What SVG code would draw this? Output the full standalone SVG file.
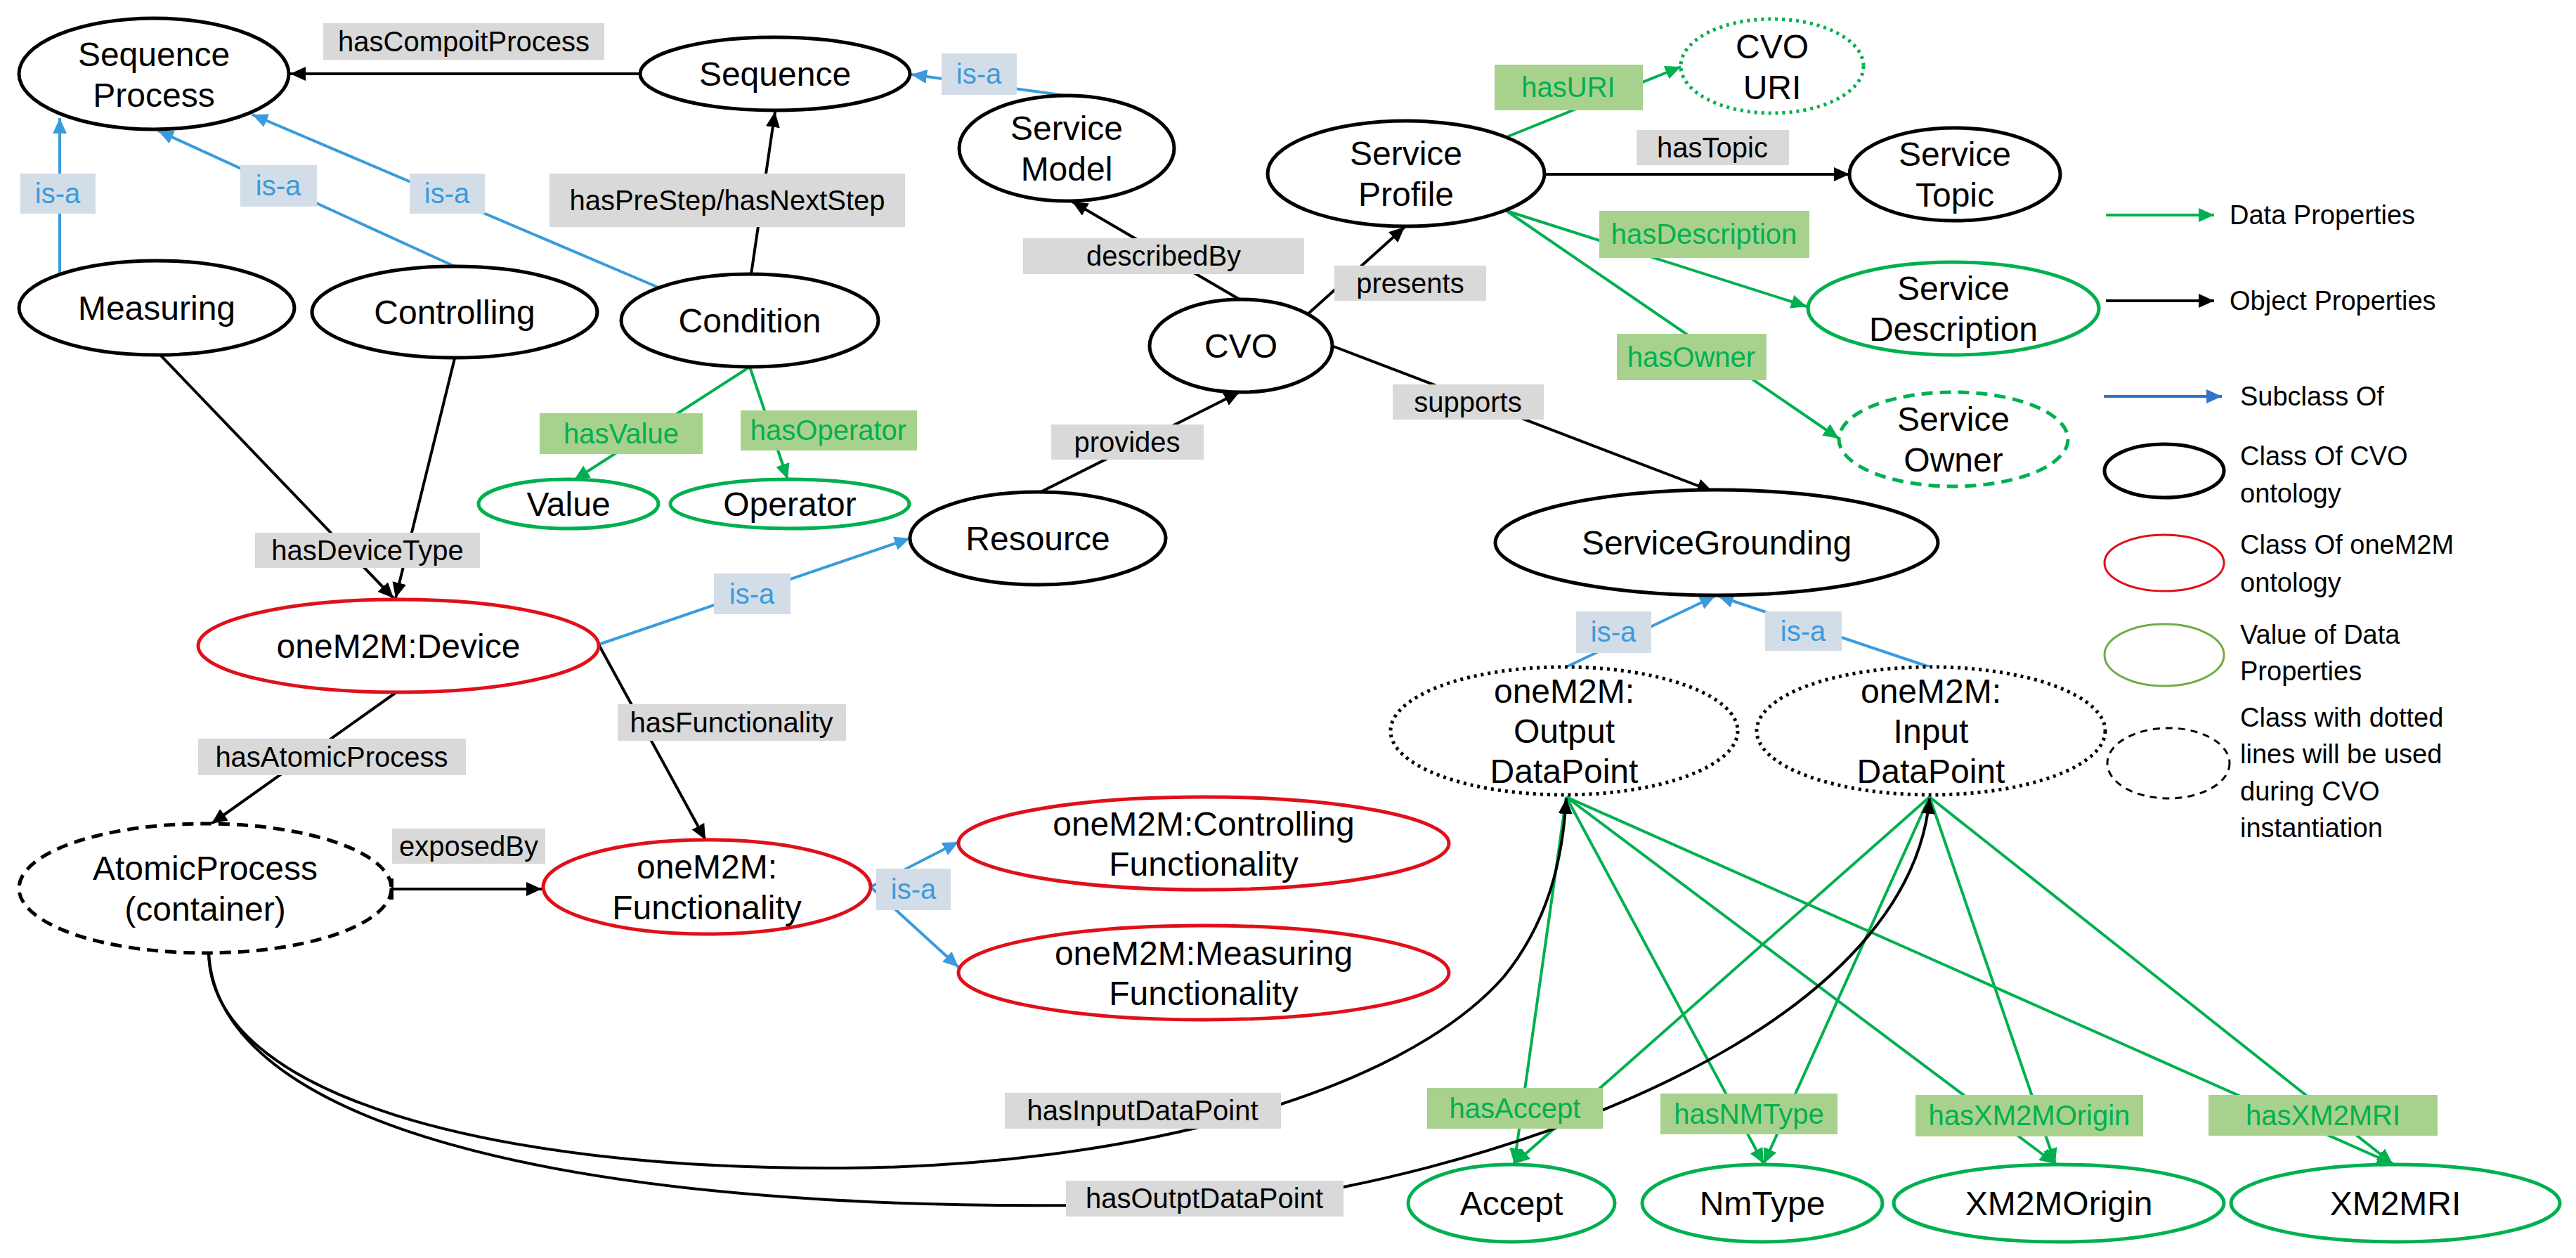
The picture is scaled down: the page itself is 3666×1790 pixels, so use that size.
<svg xmlns="http://www.w3.org/2000/svg" width="3666" height="1790" viewBox="0 0 3666 1790">
<style>
text{font-family:"Liberation Sans",Arial,sans-serif;text-anchor:middle;dominant-baseline:central}
.n{font-size:48px;fill:#000}
.l{font-size:40px}
.lg{font-size:38px;text-anchor:start;fill:#000}
.cvo{fill:#fff;stroke:#000;stroke-width:5}
.m2m{fill:#fff;stroke:#e0101a;stroke-width:5}
.val{fill:#fff;stroke:#00b050;stroke-width:5}
.dash{fill:#fff;stroke:#000;stroke-width:5;stroke-dasharray:16 10}
.dot{fill:#fff;stroke:#000;stroke-width:5;stroke-dasharray:4 6}
.k{fill:none;stroke:#000;stroke-width:4;marker-end:url(#ak)}
.g{fill:none;stroke:#00b050;stroke-width:4;marker-end:url(#ag)}
.b{fill:none;stroke:#3a9bdc;stroke-width:4;marker-end:url(#ab)}
.gr{fill:#d9d9d9}.bl{fill:#d3dde8}.gn{fill:#a9d18e}
.tg{fill:#000}.tb{fill:#3a9bdc}.tn{fill:#00b050}
</style>
<defs>
<marker id="ak" markerUnits="userSpaceOnUse" markerWidth="24" markerHeight="20" refX="22" refY="10" orient="auto"><path d="M0,0 L22,10 L0,20 z" fill="#000"/></marker>
<marker id="ag" markerUnits="userSpaceOnUse" markerWidth="24" markerHeight="20" refX="22" refY="10" orient="auto"><path d="M0,0 L22,10 L0,20 z" fill="#00b050"/></marker>
<marker id="ab" markerUnits="userSpaceOnUse" markerWidth="24" markerHeight="20" refX="22" refY="10" orient="auto"><path d="M0,0 L22,10 L0,20 z" fill="#3a9bdc"/></marker>
<marker id="ab2" markerUnits="userSpaceOnUse" markerWidth="24" markerHeight="20" refX="22" refY="10" orient="auto"><path d="M0,0 L22,10 L0,20 z" fill="#2f75c8"/></marker>
<marker id="bar" markerUnits="userSpaceOnUse" markerWidth="6" markerHeight="30" refX="3" refY="15" orient="auto"><rect x="0" y="0" width="5" height="30" fill="#000"/></marker>
</defs>
<g id="connectors">
<line class="k" x1="911" y1="105" x2="413" y2="105"/>
<line class="b" x1="85" y1="390" x2="85" y2="168"/>
<line class="b" x1="647" y1="379" x2="225" y2="186"/>
<line class="b" x1="937" y1="409" x2="359" y2="163"/>
<line class="k" x1="1069" y1="390" x2="1103" y2="159"/>
<line class="b" x1="1517" y1="136" x2="1297" y2="106"/>
<line class="g" x1="1067" y1="522" x2="817" y2="683"/>
<line class="g" x1="1067" y1="522" x2="1121" y2="682"/>
<line class="k" x1="228" y1="505" x2="560" y2="851"/>
<line class="k" x1="647" y1="510" x2="563" y2="851"/>
<line class="b" x1="852" y1="917" x2="1295" y2="766"/>
<line class="k" x1="852" y1="917" x2="1004" y2="1195"/>
<line class="k" x1="564" y1="985" x2="301" y2="1172"/>
<line class="k" x1="558" y1="1265" x2="771" y2="1265" style="marker-start:url(#bar)"/>
<line class="b" x1="1239" y1="1262" x2="1364" y2="1198"/>
<line class="b" x1="1239" y1="1262" x2="1364" y2="1376"/>
<line class="k" x1="1764" y1="426" x2="1526" y2="287"/>
<line class="k" x1="1861" y1="447" x2="1999" y2="323"/>
<line class="k" x1="1898" y1="493" x2="2437" y2="699"/>
<line class="k" x1="1481" y1="700" x2="1764" y2="558"/>
<line class="g" x1="2144" y1="195" x2="2392" y2="95"/>
<line class="k" x1="2198" y1="248" x2="2632" y2="248"/>
<line class="g" x1="2144" y1="300" x2="2571" y2="436"/>
<line class="g" x1="2144" y1="300" x2="2617" y2="624"/>
<line class="b" x1="2229" y1="949" x2="2441" y2="848"/>
<line class="b" x1="2746" y1="949" x2="2445" y2="848"/>
<line class="g" x1="2229" y1="1134" x2="2155" y2="1656"/>
<line class="g" x1="2229" y1="1134" x2="2510" y2="1656"/>
<line class="g" x1="2229" y1="1134" x2="2925" y2="1656"/>
<line class="g" x1="2229" y1="1134" x2="3405" y2="1656"/>
<line class="g" x1="2746" y1="1134" x2="2155" y2="1656"/>
<line class="g" x1="2746" y1="1134" x2="2510" y2="1656"/>
<line class="g" x1="2746" y1="1134" x2="2925" y2="1656"/>
<line class="g" x1="2746" y1="1134" x2="3405" y2="1656"/>
<path class="k" d="M297,1356 C300,1560 700,1665 1200,1662 C1600,1660 1990,1560 2140,1390 C2205,1310 2224,1220 2229,1136"/>
<path class="k" d="M297,1356 C310,1600 800,1720 1517,1715 L1912,1689 C2300,1610 2720,1420 2746,1136"/>
</g>
<g id="labels">
<rect class="gr" x="460" y="33" width="400" height="52"/><text class="l tg" x="660" y="59">hasCompoitProcess</text>
<rect class="gr" x="782" y="247" width="506" height="76"/><text class="l tg" x="1035" y="285">hasPreStep/hasNextStep</text>
<rect class="gr" x="363" y="758" width="320" height="50"/><text class="l tg" x="523" y="783">hasDeviceType</text>
<rect class="gr" x="282" y="1051" width="381" height="52"/><text class="l tg" x="472" y="1077">hasAtomicProcess</text>
<rect class="gr" x="879" y="1002" width="325" height="52"/><text class="l tg" x="1041" y="1028">hasFunctionality</text>
<rect class="gr" x="558" y="1179" width="218" height="50"/><text class="l tg" x="667" y="1204">exposedBy</text>
<rect class="gr" x="1430" y="1555" width="393" height="51"/><text class="l tg" x="1626" y="1580">hasInputDataPoint</text>
<rect class="gr" x="1517" y="1680" width="395" height="51"/><text class="l tg" x="1714" y="1705">hasOutptDataPoint</text>
<rect class="gr" x="1456" y="339" width="400" height="51"/><text class="l tg" x="1656" y="364">describedBy</text>
<rect class="gr" x="1899" y="378" width="216" height="50"/><text class="l tg" x="2007" y="403">presents</text>
<rect class="gr" x="1982" y="547" width="215" height="50"/><text class="l tg" x="2089" y="572">supports</text>
<rect class="gr" x="1496" y="604" width="217" height="50"/><text class="l tg" x="1604" y="629">provides</text>
<rect class="gr" x="2329" y="185" width="217" height="50"/><text class="l tg" x="2437" y="210">hasTopic</text>
<rect class="bl" x="29" y="247" width="107" height="57"/><text class="l tb" x="82" y="275">is-a</text>
<rect class="bl" x="342" y="235" width="109" height="59"/><text class="l tb" x="396" y="264">is-a</text>
<rect class="bl" x="583" y="247" width="107" height="57"/><text class="l tb" x="636" y="275">is-a</text>
<rect class="bl" x="1340" y="76" width="107" height="59"/><text class="l tb" x="1393" y="105">is-a</text>
<rect class="bl" x="1016" y="816" width="109" height="58"/><text class="l tb" x="1070" y="845">is-a</text>
<rect class="bl" x="1247" y="1236" width="106" height="59"/><text class="l tb" x="1300" y="1265">is-a</text>
<rect class="bl" x="2243" y="870" width="107" height="59"/><text class="l tb" x="2296" y="899">is-a</text>
<rect class="bl" x="2512" y="870" width="109" height="56"/><text class="l tb" x="2566" y="898">is-a</text>
<rect class="gn" x="768" y="588" width="232" height="58"/><text class="l tn" x="884" y="617">hasValue</text>
<rect class="gn" x="1054" y="584" width="251" height="57"/><text class="l tn" x="1179" y="612">hasOperator</text>
<rect class="gn" x="2127" y="92" width="211" height="65"/><text class="l tn" x="2232" y="124">hasURI</text>
<rect class="gn" x="2276" y="300" width="299" height="67"/><text class="l tn" x="2425" y="333">hasDescription</text>
<rect class="gn" x="2301" y="475" width="213" height="66"/><text class="l tn" x="2407" y="508">hasOwner</text>
<rect class="gn" x="2031" y="1548" width="250" height="58"/><text class="l tn" x="2156" y="1577">hasAccept</text>
<rect class="gn" x="2363" y="1556" width="252" height="58"/><text class="l tn" x="2489" y="1585">hasNMType</text>
<rect class="gn" x="2726" y="1558" width="324" height="59"/><text class="l tn" x="2888" y="1587">hasXM2MOrigin</text>
<rect class="gn" x="3143" y="1558" width="326" height="58"/><text class="l tn" x="3306" y="1587">hasXM2MRI</text>
</g>
<g id="SequenceProcess"><ellipse class="cvo" cx="219" cy="105" rx="192" ry="79"/><text class="n" x="219" y="77">Sequence</text><text class="n" x="219" y="135">Process</text></g>
<g id="Sequence"><ellipse class="cvo" cx="1103" cy="105" rx="192" ry="52"/><text class="n" x="1103" y="105">Sequence</text></g>
<g id="Measuring"><ellipse class="cvo" cx="223" cy="438" rx="196" ry="67"/><text class="n" x="223" y="438">Measuring</text></g>
<g id="Controlling"><ellipse class="cvo" cx="647" cy="444" rx="203" ry="65"/><text class="n" x="647" y="444">Controlling</text></g>
<g id="Condition"><ellipse class="cvo" cx="1067" cy="456" rx="183" ry="66"/><text class="n" x="1067" y="456">Condition</text></g>
<g id="Value"><ellipse class="val" cx="809" cy="717" rx="128" ry="35"/><text class="n" x="809" y="717">Value</text></g>
<g id="Operator"><ellipse class="val" cx="1124" cy="717" rx="170" ry="35"/><text class="n" x="1124" y="717">Operator</text></g>
<g id="ServiceModel"><ellipse class="cvo" cx="1518" cy="211" rx="153" ry="75"/><text class="n" x="1518" y="182">Service</text><text class="n" x="1518" y="240">Model</text></g>
<g id="ServiceProfile"><ellipse class="cvo" cx="2001" cy="247" rx="197" ry="75"/><text class="n" x="2001" y="218">Service</text><text class="n" x="2001" y="276">Profile</text></g>
<g id="CVOURI"><ellipse cx="2522" cy="94" rx="130" ry="67" fill="#fff" stroke="#00b050" stroke-width="5" stroke-dasharray="4 6"/><text class="n" x="2522" y="66">CVO</text><text class="n" x="2522" y="124">URI</text></g>
<g id="ServiceTopic"><ellipse class="cvo" cx="2782" cy="248" rx="150" ry="66"/><text class="n" x="2782" y="219">Service</text><text class="n" x="2782" y="277">Topic</text></g>
<g id="ServiceDescription"><ellipse class="val" cx="2780" cy="439" rx="207" ry="66"/><text class="n" x="2780" y="410">Service</text><text class="n" x="2780" y="468">Description</text></g>
<g id="ServiceOwner"><ellipse cx="2780" cy="625" rx="163" ry="67" fill="#fff" stroke="#00b050" stroke-width="5" stroke-dasharray="16 10"/><text class="n" x="2780" y="596">Service</text><text class="n" x="2780" y="654">Owner</text></g>
<g id="CVO"><ellipse class="cvo" cx="1766" cy="492" rx="130" ry="66"/><text class="n" x="1766" y="492">CVO</text></g>
<g id="Resource"><ellipse class="cvo" cx="1477" cy="766" rx="182" ry="66"/><text class="n" x="1477" y="766">Resource</text></g>
<g id="ServiceGrounding"><ellipse class="cvo" cx="2443" cy="772" rx="315" ry="75"/><text class="n" x="2443" y="772">ServiceGrounding</text></g>
<g id="Device"><ellipse class="m2m" cx="567" cy="919" rx="285" ry="66"/><text class="n" x="567" y="919">oneM2M:Device</text></g>
<g id="AtomicProcess"><ellipse class="dash" cx="292" cy="1264" rx="265" ry="92"/><text class="n" x="292" y="1235">AtomicProcess</text><text class="n" x="292" y="1293">(container)</text></g>
<g id="Functionality"><ellipse class="m2m" cx="1006" cy="1262" rx="233" ry="67"/><text class="n" x="1006" y="1233">oneM2M:</text><text class="n" x="1006" y="1291">Functionality</text></g>
<g id="ControllingFunctionality"><ellipse class="m2m" cx="1713" cy="1200" rx="349" ry="66"/><text class="n" x="1713" y="1172">oneM2M:Controlling</text><text class="n" x="1713" y="1229">Functionality</text></g>
<g id="MeasuringFunctionality"><ellipse class="m2m" cx="1713" cy="1384" rx="349" ry="67"/><text class="n" x="1713" y="1356">oneM2M:Measuring</text><text class="n" x="1713" y="1413">Functionality</text></g>
<g id="OutputDataPoint"><ellipse class="dot" cx="2226" cy="1040" rx="247" ry="91"/><text class="n" x="2226" y="983">oneM2M:</text><text class="n" x="2226" y="1040">Output</text><text class="n" x="2226" y="1097">DataPoint</text></g>
<g id="InputDataPoint"><ellipse class="dot" cx="2748" cy="1040" rx="248" ry="91"/><text class="n" x="2748" y="983">oneM2M:</text><text class="n" x="2748" y="1040">Input</text><text class="n" x="2748" y="1097">DataPoint</text></g>
<g id="Accept"><ellipse class="val" cx="2151" cy="1712" rx="147" ry="55"/><text class="n" x="2151" y="1712">Accept</text></g>
<g id="NmType"><ellipse class="val" cx="2508" cy="1712" rx="171" ry="55"/><text class="n" x="2508" y="1712">NmType</text></g>
<g id="XM2MOrigin"><ellipse class="val" cx="2930" cy="1712" rx="235" ry="55"/><text class="n" x="2930" y="1712">XM2MOrigin</text></g>
<g id="XM2MRI"><ellipse class="val" cx="3409" cy="1712" rx="234" ry="55"/><text class="n" x="3409" y="1712">XM2MRI</text></g>
<g id="legend">
<line x1="2997" y1="306" x2="3151" y2="306" stroke="#00b050" stroke-width="4" marker-end="url(#ag)"/><text class="lg" x="3173" y="306">Data Properties</text>
<line x1="2997" y1="428" x2="3151" y2="428" stroke="#000" stroke-width="4" marker-end="url(#ak)"/><text class="lg" x="3173" y="428">Object Properties</text>
<line x1="2994" y1="564" x2="3162" y2="564" stroke="#2f75c8" stroke-width="4" marker-end="url(#ab2)"/><text class="lg" x="3188" y="564">Subclass Of</text>
<ellipse cx="3080" cy="670" rx="85" ry="38" fill="none" stroke="#000" stroke-width="5"/><text class="lg" x="3188" y="649">Class Of CVO</text><text class="lg" x="3188" y="702">ontology</text>
<ellipse cx="3080" cy="801" rx="85" ry="40" fill="none" stroke="#e0101a" stroke-width="3"/><text class="lg" x="3188" y="775">Class Of oneM2M</text><text class="lg" x="3188" y="829">ontology</text>
<ellipse cx="3080" cy="932" rx="85" ry="44" fill="none" stroke="#70ad47" stroke-width="3"/><text class="lg" x="3188" y="903">Value of Data</text><text class="lg" x="3188" y="955">Properties</text>
<ellipse cx="3086" cy="1086" rx="87" ry="50" fill="none" stroke="#000" stroke-width="3" stroke-dasharray="10 8"/><text class="lg" x="3188" y="1021">Class with dotted</text><text class="lg" x="3188" y="1073">lines will be used</text><text class="lg" x="3188" y="1126">during CVO</text><text class="lg" x="3188" y="1178">instantiation</text>
</g>
</svg>
